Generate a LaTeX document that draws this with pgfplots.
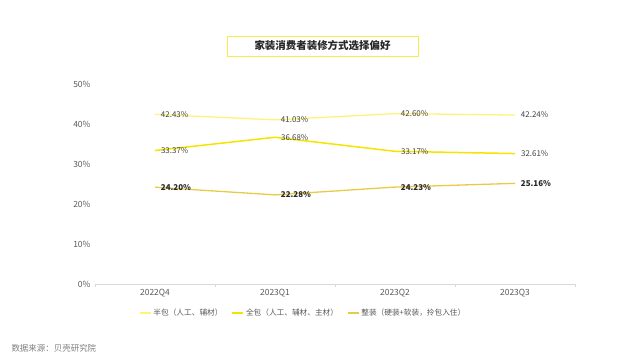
\documentclass[border=0pt]{standalone}
\usepackage{fontspec}
\setmainfont{Noto Sans CJK SC}
\usepackage{pgfplots}
\pgfplotsset{compat=1.18}
\definecolor{cA}{HTML}{FFF27A}
\definecolor{cB}{HTML}{F5E400}
\definecolor{cC}{HTML}{E8CB45}
\definecolor{tk}{HTML}{595959}
\definecolor{lab}{HTML}{404040}
\definecolor{ax}{HTML}{D9D9D9}
\begin{document}
\begin{tikzpicture}[x=1bp,y=1bp]
\path (0,0) rectangle (640,360);
\draw[cB!70,line width=1bp] (227,304) rectangle (418,324);
\node[font=\fontsize{10.5}{12}\selectfont\bfseries,text=black!85] at (322.5,314) {家装消费者装修方式选择偏好};
\node[anchor=west,font=\fontsize{8.5}{10}\selectfont,text=black!50] at (8,12) {数据来源：贝壳研究院};
\begin{axis}[
  at={(95bp,76bp)}, anchor=south west,
  width=480bp, height=200bp, scale only axis,
  xmin=-0.5, xmax=3.5, ymin=0, ymax=50,
  xtick={0,1,2,3},
  xticklabels={2022Q4,2023Q1,2023Q2,2023Q3},
  minor xtick={-0.5,0.5,1.5,2.5,3.5},
  ytick={0,10,20,30,40,50},
  yticklabel={\pgfmathprintnumber{\tick}\%},
  /pgf/number format/assume math mode=true,
  axis y line*=left,
  axis x line*=bottom,
  y axis line style={draw=none},
  x axis line style={ax, line width=0.8bp, -},
  major tick length=0pt,
  minor tick length=3bp,
  tick align=outside,
  minor tick style={ax, line width=0.8bp},
  ticklabel style={font=\fontsize{8.5}{10}\selectfont, text=tk},
  xticklabel style={yshift=-2bp},
  yticklabel style={xshift=-1bp},
  clip=false,
  legend columns=3,
  legend style={draw=none, fill=none, at={(0.0854,-0.145)}, anchor=west,
     font=\fontsize{7.7}{9}\selectfont, text=tk,
     /tikz/every even column/.append style={column sep=7bp}},
  legend cell align=left,
  legend image code/.code={\draw[#1] (0bp,0bp) -- (11bp,0bp);},
  nodes near coords={\pgfmathprintnumber[fixed,zerofill,precision=2]{\pgfplotspointmeta}\%},
  every node near coord/.append style={anchor=west, xshift=2bp, font=\fontsize{8}{10}\selectfont, text=lab},
]
\addplot[cA, line width=1.3bp, mark=none] coordinates {(0,42.43) (1,41.03) (2,42.60) (3,42.24)};
\addlegendentry{半包（人工、辅材）}
\addplot[cB, line width=1.5bp, mark=none] coordinates {(0,33.37) (1,36.68) (2,33.17) (3,32.61)};
\addlegendentry{全包（人工、辅材、主材）}
\addplot[cC, line width=1.3bp, mark=none, every node near coord/.append style={font=\fontsize{8}{10}\selectfont\bfseries, text=black!85}] coordinates {(0,24.20) (1,22.28) (2,24.23) (3,25.16)};
\addlegendentry{整装（硬装+软装，拎包入住）}
\end{axis}
\end{tikzpicture}
\end{document}
